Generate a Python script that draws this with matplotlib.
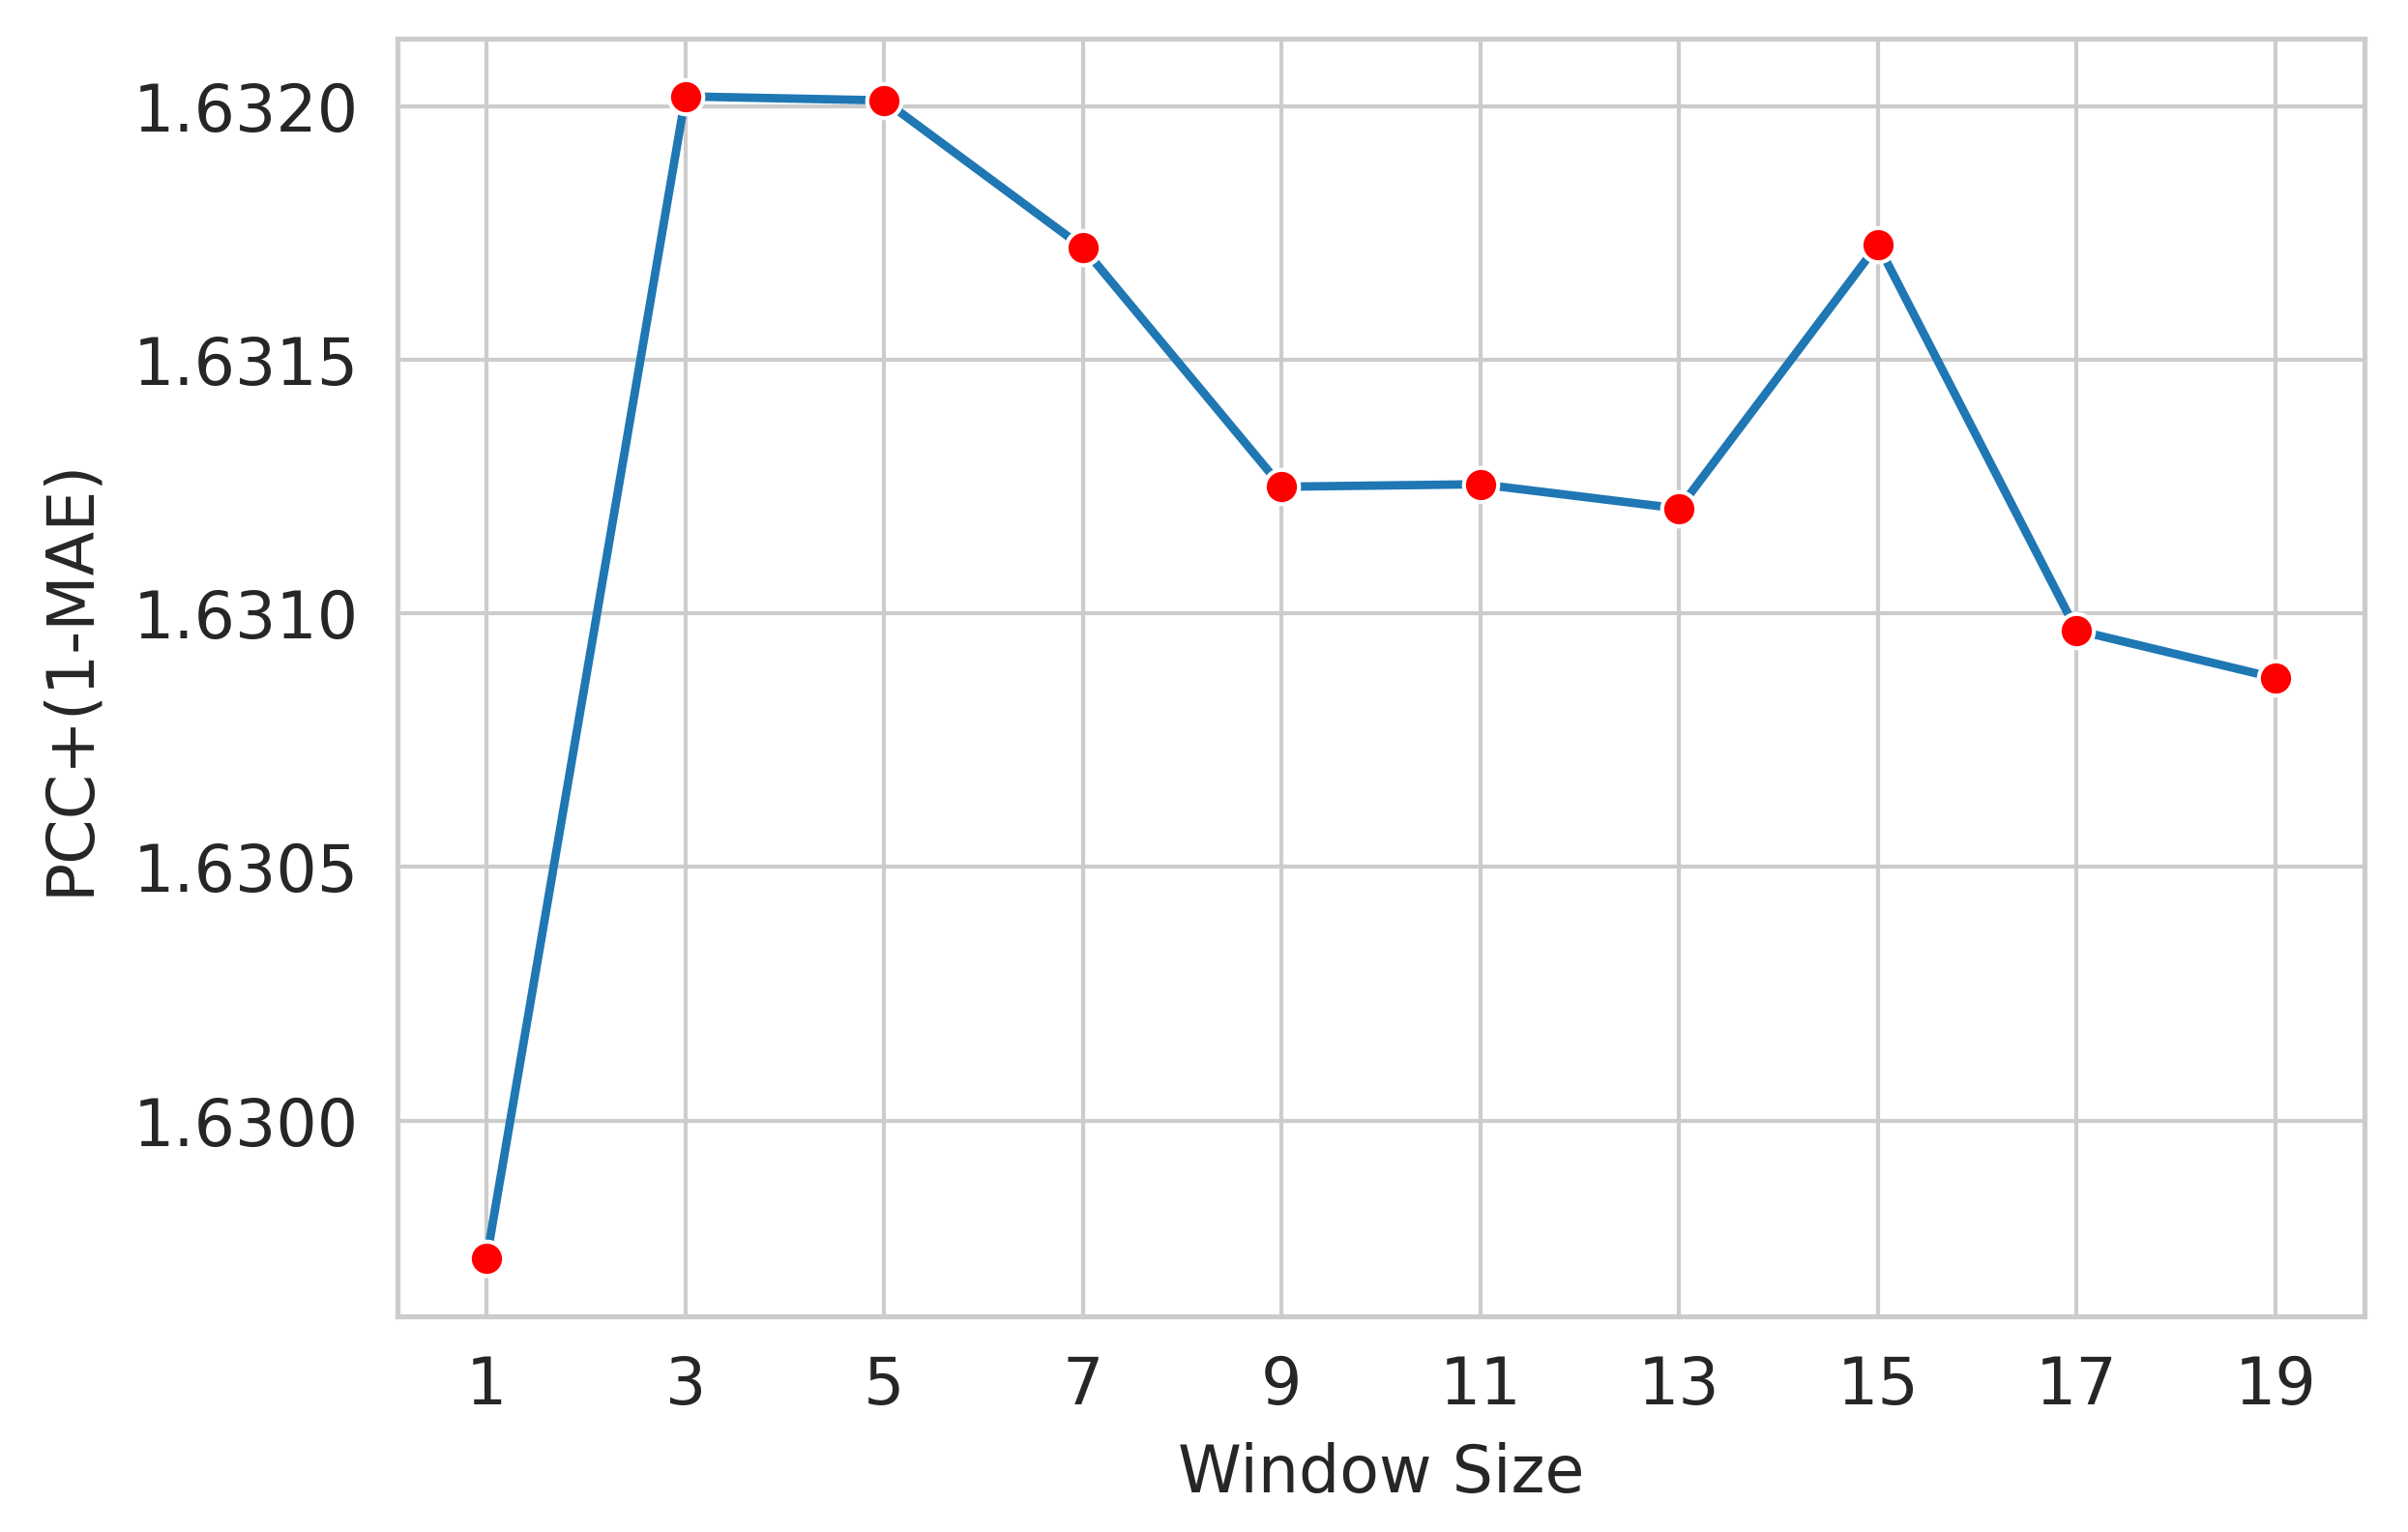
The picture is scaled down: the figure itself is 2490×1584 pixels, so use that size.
import matplotlib
matplotlib.use("Agg")
import matplotlib.pyplot as plt
import seaborn as sns

# window sizes and scores
window_sizes = [1, 3, 5, 7, 9, 11, 13, 15, 17, 19]
scores = [1.629729, 1.632020, 1.632012, 1.631722, 1.631250,
          1.631255, 1.631207, 1.631728, 1.630967, 1.630873]
y_ticks = [1.6300, 1.6305, 1.6310, 1.6315, 1.6320]

sns.set_theme(style="whitegrid")
plt.rcParams['font.family'] = ['DejaVu Sans']

fig = plt.figure(figsize=(8.3, 5.28), dpi=300)
ax = fig.add_axes([0.165, 0.141, 0.817, 0.834])

ax.plot(window_sizes, scores, color="#1f77b4", linewidth=2.1,
        marker="o", markersize=8.5, markerfacecolor="red",
        markeredgecolor="white", markeredgewidth=1.0)

ax.set_xticks(window_sizes)
ax.set_yticks(y_ticks)
ax.set_yticklabels(["{:.4f}".format(v) for v in y_ticks])
ax.tick_params(labelsize=16)
ax.set_xlabel("Window Size", fontsize=16, labelpad=6)
ax.set_ylabel("PCC+(1-MAE)", fontsize=16, labelpad=8)

fig.savefig("out.png", dpi=300)
